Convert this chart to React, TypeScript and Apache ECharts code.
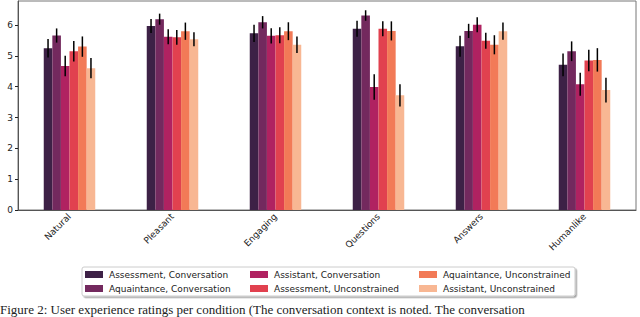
import React, { useEffect, useRef } from "react";
import * as echarts from "echarts";

const categories = ["Natural", "Pleasant", "Engaging", "Questions", "Answers", "Humanlike"];
const seriesNames = [
  "Assessment, Conversation",
  "Aquaintance, Conversation",
  "Assistant, Conversation",
  "Assessment, Unconstrained",
  "Aquaintance, Unconstrained",
  "Assistant, Unconstrained",
];
const colors = ["#3d2146", "#73295e", "#b02261", "#e1414f", "#f27a57", "#f8b793"];

const assessConv = [5.25, 5.97, 5.73, 5.88, 5.31, 4.71];
const aquaConv = [5.66, 6.19, 6.09, 6.31, 5.81, 5.15];
const assistConv = [4.67, 5.62, 5.65, 3.99, 6.01, 4.08];
const assessUnc = [5.15, 5.6, 5.67, 5.88, 5.49, 4.85];
const aquaUnc = [5.3, 5.8, 5.8, 5.81, 5.36, 4.87];
const assistUnc = [4.6, 5.54, 5.36, 3.72, 5.8, 3.89];

const assessConvErr = [0.3, 0.23, 0.28, 0.26, 0.34, 0.37];
const aquaConvErr = [0.23, 0.18, 0.2, 0.17, 0.23, 0.32];
const assistConvErr = [0.33, 0.24, 0.25, 0.41, 0.24, 0.37];
const assessUncErr = [0.33, 0.24, 0.26, 0.24, 0.26, 0.35];
const aquaUncErr = [0.33, 0.28, 0.29, 0.31, 0.31, 0.38];
const assistUncErr = [0.33, 0.23, 0.27, 0.36, 0.28, 0.4];

const values = [assessConv, aquaConv, assistConv, assessUnc, aquaUnc, assistUnc];
const errors = [assessConvErr, aquaConvErr, assistConvErr, assessUncErr, aquaUncErr, assistUncErr];

const caption =
  "Figure 2: User experience ratings per condition (The conversation context is noted. The conversation";

export default function App() {
  const ref = useRef<HTMLDivElement>(null);
  useEffect(() => {
    if (!ref.current) return;
    const chart = echarts.init(ref.current, null, { renderer: "svg" });
    const font = "DejaVu Sans";
    const n = seriesNames.length;
    const barSeries = seriesNames.map((name, k) => ({
      name,
      type: "bar",
      data: values[k],
      itemStyle: { color: colors[k] },
      barGap: "0%",
      barCategoryGap: "50%",
      z: 2,
    }));
    const errSeries = seriesNames.map((name, k) => ({
      name: name + " err",
      type: "custom",
      z: 5,
      silent: true,
      encode: { x: 0, y: 1 },
      data: categories.map((_, i) => [i, values[k][i], errors[k][i]]),
      renderItem: (params: any, api: any) => {
        const ci = api.value(0);
        const v = api.value(1);
        const e = api.value(2);
        const c = api.coord([ci, v]);
        const band = api.size([1, 0])[0];
        const bw = (band * 0.5) / n;
        const x = c[0] + (k - (n - 1) / 2) * bw;
        const top = api.coord([ci, v + e])[1];
        const bot = api.coord([ci, v - e])[1];
        return {
          type: "line",
          shape: { x1: x, y1: top, x2: x, y2: bot },
          style: { stroke: "#000", lineWidth: 1.5 },
        };
      },
    }));
    const legendCols = [0, 1, 2].map((c) => ({
      orient: "vertical",
      left: [85, 250, 419][c],
      top: 270,
      itemWidth: 18,
      itemHeight: 7,
      itemGap: 5,
      padding: 0,
      icon: "rect",
      data: [seriesNames[c * 2], seriesNames[c * 2 + 1]],
      textStyle: { fontFamily: font, fontSize: 9, color: "#222", padding: [0, 0, 0, 1] },
    }));
    chart.setOption({
      animation: false,
      grid: {
        left: 18,
        right: 4,
        top: 1,
        bottom: 107,
        show: true,
        borderColor: "#777",
        borderWidth: 1,
        containLabel: false,
      },
      xAxis: {
        type: "category",
        data: categories,
        axisLine: { lineStyle: { color: "#555" } },
        axisTick: { alignWithLabel: true, length: 3, lineStyle: { color: "#222" } },
        axisLabel: { rotate: 45, fontFamily: font, fontSize: 9, color: "#222", margin: 5 },
      },
      yAxis: {
        type: "value",
        min: 0,
        max: 6.78,
        interval: 1,
        splitLine: { show: false },
        axisLine: { show: true, lineStyle: { color: "#555" } },
        axisTick: { show: true, length: 3, lineStyle: { color: "#222" } },
        axisLabel: { fontFamily: font, fontSize: 9, color: "#222", margin: 5, showMaxLabel: false },
      },
      legend: legendCols,
      graphic: [
        {
          type: "rect",
          shape: { x: 82, y: 267, width: 493, height: 29, r: 2 },
          style: {
            fill: "#fff",
            stroke: "#ccc",
            lineWidth: 1,
            shadowColor: "rgba(0,0,0,0.35)",
            shadowOffsetX: 1.5,
            shadowOffsetY: 1.5,
            shadowBlur: 0,
          },
          z: -1,
        },
        {
          type: "text",
          left: 0,
          top: 303,
          style: { text: caption, fontFamily: "Liberation Serif", fontSize: 13, fill: "#222" },
        },
      ],
      series: [...barSeries, ...errSeries],
    });
    return () => chart.dispose();
  }, []);
  return (
    <div
      ref={ref}
      style={{ position: "absolute", left: 0, top: 0, width: 640, height: 317, background: "#fff" }}
    />
  );
}
